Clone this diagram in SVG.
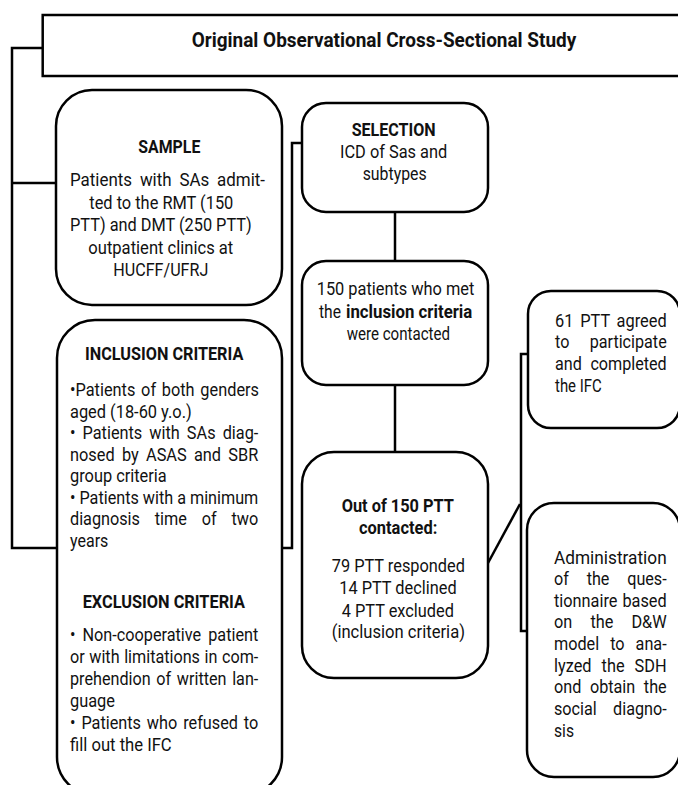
<svg xmlns="http://www.w3.org/2000/svg" width="678" height="785" viewBox="0 0 678 785">
<style>
.box{fill:#fff;stroke:#000;stroke-width:2.5}
.ln{fill:none;stroke:#000;stroke-width:2.5}
text{font-family:Roboto,"Liberation Sans",sans-serif;font-size:19px;fill:#111}
.b{font-weight:bold}
.h{font-weight:bold;font-size:21px}
</style>
<rect width="678" height="785" fill="#fff"/>
<g id="connectors">
<path class="ln" d="M43,48 H12 V548 H57"/>
<path class="ln" d="M12,183 H56"/>
<path class="ln" d="M302,143 H292 V548 H282"/>
<path class="ln" d="M395,212 V261"/>
<path class="ln" d="M395,385 V452"/>
<path class="ln" d="M488,563 L520,504"/>
<path class="ln" d="M528,354 H521 V631 H527"/>
</g>
<g id="title">
<rect class="box" x="42.7" y="15" width="700" height="61"/>
<text class="h" x="191.7" y="46.5" textLength="384.6" lengthAdjust="spacingAndGlyphs">Original Observational Cross-Sectional Study</text>
</g>
<g id="sample">
<rect class="box" x="56" y="90" width="226" height="215" rx="36"/>
<text class="b" x="138.3" y="153" textLength="62" lengthAdjust="spacingAndGlyphs">SAMPLE</text>
<text x="70" y="186" textLength="195" lengthAdjust="spacingAndGlyphs" word-spacing="4">Patients with SAs admit-</text>
<text x="89.3" y="208.5" textLength="144" lengthAdjust="spacingAndGlyphs">ted to the RMT (150</text>
<text x="70" y="231" textLength="181.7" lengthAdjust="spacingAndGlyphs">PTT) and DMT (250 PTT)</text>
<text x="88.3" y="253.5" textLength="145" lengthAdjust="spacingAndGlyphs">outpatient clinics at</text>
<text x="113.3" y="276" textLength="95" lengthAdjust="spacingAndGlyphs">HUCFF/UFRJ</text>
</g>
<g id="criteria">
<rect class="box" x="57" y="320" width="225" height="475" rx="38"/>
<text class="b" x="85" y="360" textLength="158.3" lengthAdjust="spacingAndGlyphs">INCLUSION CRITERIA</text>
<text x="70" y="396" textLength="189" lengthAdjust="spacingAndGlyphs" word-spacing="2">•Patients of both genders</text>
<text x="70" y="417.5" textLength="121.7" lengthAdjust="spacingAndGlyphs">aged (18-60 y.o.)</text>
<text x="70" y="439" textLength="188.3" lengthAdjust="spacingAndGlyphs" word-spacing="3.5">• Patients with SAs diag-</text>
<text x="70" y="460.5" textLength="188.3" lengthAdjust="spacingAndGlyphs" word-spacing="3.7">nosed by ASAS and SBR</text>
<text x="70" y="482" textLength="96.7" lengthAdjust="spacingAndGlyphs">group criteria</text>
<text x="70" y="503.5" textLength="188.3" lengthAdjust="spacingAndGlyphs">• Patients with a minimum</text>
<text x="70" y="525" textLength="188.3" lengthAdjust="spacingAndGlyphs" word-spacing="12.7">diagnosis time of two</text>
<text x="70" y="546.5" textLength="38.3" lengthAdjust="spacingAndGlyphs">years</text>
<text class="b" x="82.7" y="608" textLength="162.3" lengthAdjust="spacingAndGlyphs">EXCLUSION CRITERIA</text>
<text x="70" y="641" textLength="188.3" lengthAdjust="spacingAndGlyphs" word-spacing="3.5">• Non-cooperative patient</text>
<text x="70" y="663" textLength="188.3" lengthAdjust="spacingAndGlyphs" word-spacing="0.7">or with limitations in com-</text>
<text x="70" y="685" textLength="188.3" lengthAdjust="spacingAndGlyphs" word-spacing="2">prehendion of written lan-</text>
<text x="70" y="707" textLength="45" lengthAdjust="spacingAndGlyphs">guage</text>
<text x="70" y="729" textLength="188.3" lengthAdjust="spacingAndGlyphs" word-spacing="2.2">• Patients who refused to</text>
<text x="70" y="751" textLength="101.7" lengthAdjust="spacingAndGlyphs">fill out the IFC</text>
</g>
<g id="selection">
<rect class="box" x="302" y="103" width="186" height="109" rx="24"/>
<text class="b" x="351.7" y="136" textLength="84" lengthAdjust="spacingAndGlyphs">SELECTION</text>
<text x="340" y="158" textLength="107.3" lengthAdjust="spacingAndGlyphs">ICD of Sas and</text>
<text x="362.7" y="180" textLength="64" lengthAdjust="spacingAndGlyphs">subtypes</text>
</g>
<g id="contacted">
<rect class="box" x="302" y="261" width="186" height="124" rx="24"/>
<text x="316.7" y="295" textLength="157.7" lengthAdjust="spacingAndGlyphs">150 patients who met</text>
<text x="319" y="317.5" textLength="22" lengthAdjust="spacingAndGlyphs">the</text>
<text class="b" x="346" y="317.5" textLength="126.3" lengthAdjust="spacingAndGlyphs">inclusion criteria</text>
<text x="346.7" y="340" textLength="103.3" lengthAdjust="spacingAndGlyphs">were contacted</text>
</g>
<g id="outcome">
<rect class="box" x="302" y="452" width="186" height="226" rx="32"/>
<text class="b" x="341.7" y="511.7" textLength="112.3" lengthAdjust="spacingAndGlyphs">Out of 150 PTT</text>
<text class="b" x="359" y="534" textLength="78.3" lengthAdjust="spacingAndGlyphs">contacted:</text>
<text x="331.7" y="571.7" textLength="133.3" lengthAdjust="spacingAndGlyphs">79 PTT responded</text>
<text x="339.3" y="594" textLength="117.3" lengthAdjust="spacingAndGlyphs">14 PTT declined</text>
<text x="341.7" y="616.7" textLength="112.3" lengthAdjust="spacingAndGlyphs">4 PTT excluded</text>
<text x="331.7" y="638" textLength="133.3" lengthAdjust="spacingAndGlyphs">(inclusion criteria)</text>
</g>
<g id="agreed">
<rect class="box" x="528" y="291" width="152" height="137" rx="23"/>
<text transform="translate(555,326.5) scale(0.87,1)" textLength="128.4" lengthAdjust="spacingAndGlyphs" word-spacing="3.1">61 PTT agreed</text>
<text transform="translate(555,348) scale(0.87,1)" textLength="128.4" lengthAdjust="spacingAndGlyphs" word-spacing="19.2">to participate</text>
<text transform="translate(555,369.5) scale(0.87,1)" textLength="128.4" lengthAdjust="spacingAndGlyphs" word-spacing="5.4">and completed</text>
<text transform="translate(555,391.5) scale(0.87,1)" textLength="53.7" lengthAdjust="spacingAndGlyphs">the IFC</text>
</g>
<g id="administration">
<rect class="box" x="527" y="503" width="153" height="274" rx="27"/>
<text transform="translate(554,563.5) scale(0.87,1)" textLength="129.5" lengthAdjust="spacingAndGlyphs">Administration</text>
<text transform="translate(554,585) scale(0.87,1)" textLength="129.5" lengthAdjust="spacingAndGlyphs" word-spacing="16.2">of the ques-</text>
<text transform="translate(554,606.5) scale(0.87,1)" textLength="129.5" lengthAdjust="spacingAndGlyphs" word-spacing="1">tionnaire based</text>
<text transform="translate(554,628) scale(0.87,1)" textLength="129.5" lengthAdjust="spacingAndGlyphs" word-spacing="16.4">on the D&amp;W</text>
<text transform="translate(554,650) scale(0.87,1)" textLength="129.5" lengthAdjust="spacingAndGlyphs" word-spacing="8.2">model to ana-</text>
<text transform="translate(554,671.5) scale(0.87,1)" textLength="129.5" lengthAdjust="spacingAndGlyphs" word-spacing="7">lyzed the SDH</text>
<text transform="translate(554,693) scale(0.87,1)" textLength="129.5" lengthAdjust="spacingAndGlyphs" word-spacing="5.4">ond obtain the</text>
<text transform="translate(554,715) scale(0.87,1)" textLength="129.5" lengthAdjust="spacingAndGlyphs" word-spacing="14.5">social diagno-</text>
<text transform="translate(554,736.5) scale(0.87,1)" textLength="23" lengthAdjust="spacingAndGlyphs">sis</text>
</g>
</svg>
